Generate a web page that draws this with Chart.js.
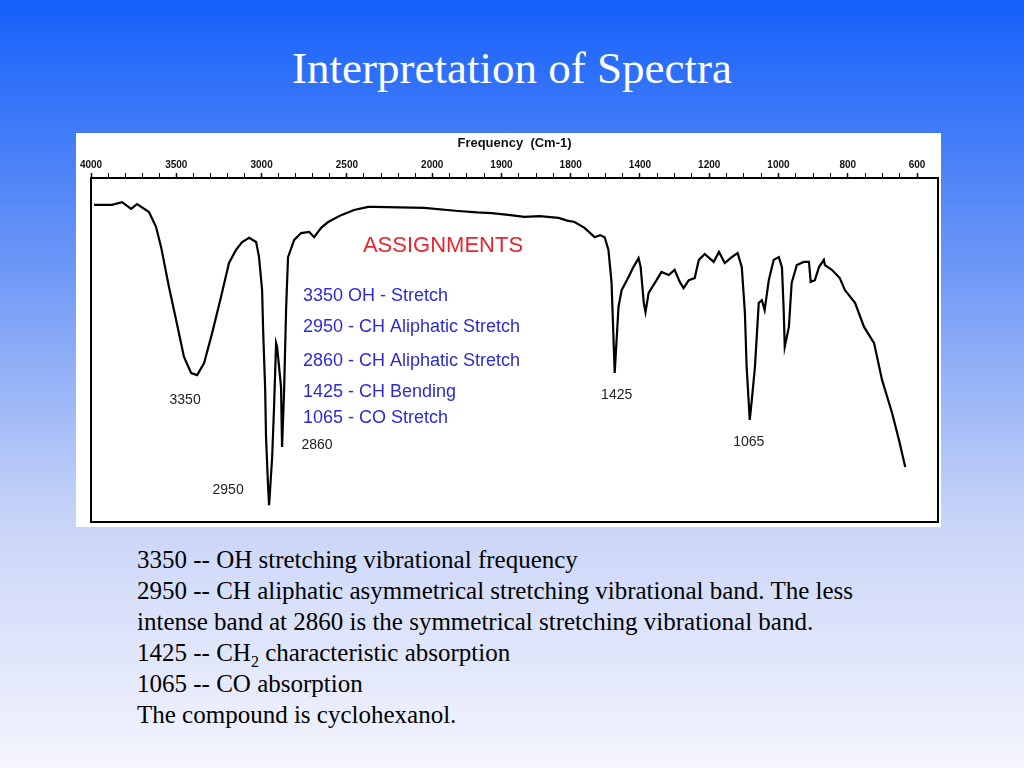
<!DOCTYPE html>
<html>
<head>
<meta charset="utf-8">
<title>Interpretation of Spectra</title>
<script src="https://cdn.jsdelivr.net/npm/chart.js@4.4.0/dist/chart.umd.min.js"></script>
<style>
    html, body {
        margin: 0;
        padding: 0;
    }
    body {
        width: 1024px;
        height: 768px;
        position: relative;
        overflow: hidden;
        background: linear-gradient(to bottom, #1560fa 0%, #6e98f6 35%, #c9d5f8 68%, #f4f5fd 100%);
        font-family: "Liberation Serif", "DejaVu Serif", serif;
    }
    #title {
        position: absolute;
        left: 0;
        top: 40px;
        width: 1024px;
        text-align: center;
        color: #fff;
        font-size: 45px;
        line-height: 56px;
    }
    #chartBox {
        position: absolute;
        left: 76px;
        top: 133px;
        width: 865px;
        height: 394px;
        background: #fff;
    }
    #notes {
        position: absolute;
        left: 137px;
        top: 544px;
        font-size: 25px;
        line-height: 31px;
        color: #000;
        white-space: nowrap;
    }
    #notes sub {
        font-size: 16px;
        line-height: 0;
    }
</style>
</head>
<body>
<div id="title">Interpretation of Spectra</div>
<div id="chartBox"><canvas id="irChart" width="865" height="394"></canvas></div>
<div id="notes">
    3350 -- OH stretching vibrational frequency<br>
    2950 -- CH aliphatic asymmetrical stretching vibrational band. The less<br>
    intense band at 2860 is the symmetrical stretching vibrational band.<br>
    1425 -- CH<sub>2</sub> characteristic absorption<br>
    1065 -- CO absorption<br>
    The compound is cyclohexanol.
</div>

<script>
// Spectrum trace: wavenumber (cm-1) and % transmittance
const wavenumbers = [
    3982, 3877, 3818, 3765, 3730, 3660, 3619, 3589, 3543, 3501,
    3455, 3413, 3378, 3337, 3290, 3238, 3191, 3150, 3114, 3073,
    3032, 3015, 2997, 2991, 2979, 2974, 2962, 2956, 2938, 2927,
    2915, 2909, 2886, 2880, 2868, 2856, 2845, 2809, 2768, 2721,
    2692, 2651, 2610, 2534, 2458, 2375, 2340, 2047, 1925, 1870,
    1829, 1780, 1734, 1690, 1635, 1610, 1589, 1560, 1531, 1515,
    1502, 1491, 1482, 1473, 1462,
    1453, 1433, 1419, 1404, 1398, 1389, 1384, 1375, 1352, 1338,
    1317, 1300, 1285, 1274, 1259, 1242, 1230, 1213, 1187, 1172,
    1155, 1135, 1118, 1106, 1097, 1092, 1083, 1077, 1068, 1057,
    1048, 1040, 1028, 1014, 999, 990, 985, 982, 970, 962,
    947, 927, 912, 907, 895, 883, 869, 866, 846, 823,
    808, 779, 753, 724, 701, 672, 652, 634
];
const transmittance = [
    92.2, 92.2, 93.0, 91.0, 92.4, 90.1, 85.8, 79.9, 68.3, 58.7,
    48.0, 43.3, 42.7, 46.2, 54.9, 65.4, 75.3, 79.1, 81.4, 82.6,
    81.4, 77.0, 67.4, 55.8, 38.4, 24.7, 10.2, 4.9, 18.9, 33.4,
    52.0, 50.9, 39.2, 21.8, 38.4, 62.5, 77.0, 82.0, 84.0, 84.3,
    82.8, 85.5, 87.2, 89.2, 90.7, 91.6, 91.6, 91.3, 90.4, 90.0,
    89.8, 89.3, 88.7, 88.9, 88.4, 87.6, 87.2, 85.5, 82.8, 83.4,
    82.8, 79.1, 69.5, 43.3, 62.5,
    67.4, 71.2, 74.1, 76.7, 74.1, 63.7, 61.0, 66.6, 70.3, 72.7,
    71.8, 73.3, 69.8, 68.0, 70.3, 70.9, 76.2, 77.9, 75.6, 78.5,
    75.3, 77.0, 78.2, 74.1, 60.8, 45.1, 29.7, 35.5, 45.1, 63.7,
    64.5, 61.6, 70.3, 76.2, 77.0, 74.1, 61.6, 50.9, 56.7, 69.5,
    74.7, 75.6, 75.6, 69.8, 70.3, 74.1, 76.2, 74.7, 73.3, 70.9,
    67.4, 63.7, 56.7, 52.0, 41.3, 31.7, 23.8, 16.0
];

// Frequency axis: labelled ticks as printed on the scan
const majorTickWn = [4000, 3500, 3000, 2500, 2000, 1800, 1600, 1400, 1200, 1000, 800, 600];
const majorTickLabels = ['4000', '3500', '3000', '2500', '2000', '1900', '1800', '1400', '1200', '1000', '800', '600'];

// Band labels and the band each one marks
const peakWn = [3378, 2956, 2880, 1473, 1083];
const peakLabels = ['3350', '2950', '2860', '1425', '1065'];

const assignmentsTitle = 'ASSIGNMENTS';
const assignmentLines = [
    '3350 OH - Stretch',
    '2950 - CH Aliphatic Stretch',
    '2860 - CH Aliphatic Stretch',
    '1425 - CH Bending',
    '1065 - CO Stretch'
];

// The chart paper doubles its scale below 2000 cm-1
function toAxis(wn) {
    return wn >= 2000 ? 4000 - wn : 2000 + (2000 - wn) * 2.03;
}

// minor ticks: every 100 above 2000, every 50 below
const allTicks = [];
for (let w = 4000; w >= 600; w -= (w > 2000 ? 100 : 50)) {
    const i = majorTickWn.indexOf(w);
    allTicks.push({ wn: w, label: i >= 0 ? majorTickLabels[i] : '' });
}

const spectrumPoints = wavenumbers.map((wn, i) => ({ x: toAxis(wn), y: transmittance[i] }));

/**
 * Frame, band labels and the assignment legend
 */
const decorPlugin = {
    id: 'irDecor',
    afterDraw(chart) {
        const ctx = chart.ctx;
        const area = chart.chartArea;
        const xs = chart.scales.x;
        const ys = chart.scales.y;

        ctx.save();
        ctx.strokeStyle = '#000';
        ctx.lineWidth = 2;
        ctx.strokeRect(area.left, area.top, area.right - area.left, area.bottom - area.top);

        // band labels, offset from the bottom of each band
        const offsets = [[-12, 25], [-41, -15], [35, -2], [2, 22], [-1, 22]];
        ctx.fillStyle = '#222';
        ctx.font = '14px "Liberation Sans", Arial, sans-serif';
        ctx.textAlign = 'center';
        ctx.textBaseline = 'middle';
        peakLabels.forEach((label, i) => {
            const idx = wavenumbers.indexOf(peakWn[i]);
            const px = xs.getPixelForValue(toAxis(peakWn[i]));
            const py = ys.getPixelForValue(transmittance[idx]);
            ctx.fillText(label, px + offsets[i][0], py + offsets[i][1]);
        });

        // assignments box
        ctx.fillStyle = '#e8242c';
        ctx.font = '22px "Liberation Sans", Arial, sans-serif';
        ctx.fillText(assignmentsTitle, 367, 113);

        ctx.fillStyle = '#2b2bd6';
        ctx.font = '18px "Liberation Sans", Arial, sans-serif';
        ctx.textAlign = 'left';
        const lineY = [163, 194, 228, 259, 285];
        assignmentLines.forEach((text, i) => {
            ctx.fillText(text, 227, lineY[i]);
        });
        ctx.restore();
    }
};

function initializeIrChart() {
    const ctx = document.getElementById('irChart');

    const config = {
        type: 'line',
        data: {
            datasets: [
                {
                    label: 'Cyclohexanol',
                    data: spectrumPoints,
                    borderColor: '#000',
                    borderWidth: 2.2,
                    tension: 0,
                    pointRadius: 0,
                    fill: false
                }
            ]
        },
        options: {
            responsive: false,
            animation: false,
            layout: {
                padding: { left: 15, right: 3, top: 0, bottom: 5 }
            },
            plugins: {
                legend: { display: false },
                tooltip: { enabled: false },
                title: { display: false }
            },
            scales: {
                x: {
                    type: 'linear',
                    position: 'top',
                    min: 0,
                    max: 4965,
                    afterBuildTicks: function(scale) {
                        scale.ticks = allTicks.map(t => ({ value: toAxis(t.wn) }));
                    },
                    afterFit: function(scale) {
                        scale.height = 45;
                    },
                    title: {
                        display: true,
                        text: 'Frequency  (Cm-1)',
                        color: '#111',
                        font: { family: '"Liberation Sans", Arial, sans-serif', size: 13, weight: 'bold' },
                        padding: { top: 3, bottom: 0 }
                    },
                    border: { display: true, color: '#000', width: 2 },
                    grid: {
                        drawOnChartArea: false,
                        color: '#000',
                        tickLength: 5,
                        tickWidth: function(context) {
                            const t = allTicks[context.index];
                            return t && t.label ? 1.5 : 1;
                        }
                    },
                    ticks: {
                        autoSkip: false,
                        maxRotation: 0,
                        padding: 2,
                        color: '#111',
                        font: { family: '"Liberation Sans", Arial, sans-serif', size: 10, weight: 'bold' },
                        callback: function(value, index) {
                            return allTicks[index] ? allTicks[index].label : '';
                        }
                    }
                },
                y: {
                    display: false,
                    min: 0,
                    max: 100
                }
            }
        },
        plugins: [decorPlugin]
    };

    return new Chart(ctx, config);
}

initializeIrChart();
</script>
</body>
</html>
